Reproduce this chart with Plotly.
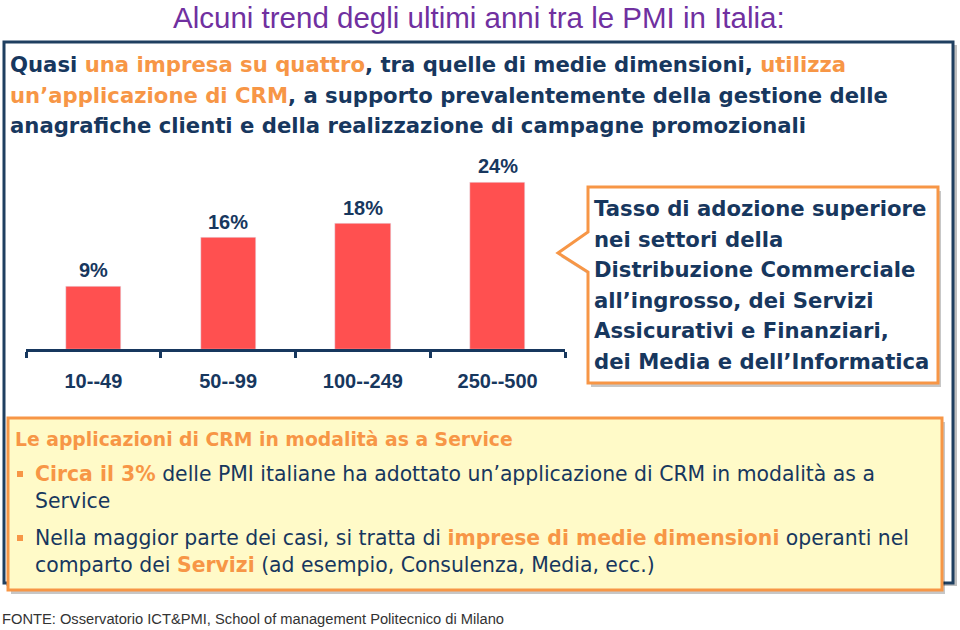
import plotly.graph_objects as go

# ---------------- data ----------------
categories = ["10--49", "50--99", "100--249", "250--500"]
adoption_pct = [9, 16, 18, 24]

title_text = "Alcuni trend degli ultimi anni tra le PMI in Italia:"
source_text = "FONTE: Osservatorio ICT&PMI, School of management Politecnico di Milano"

NAVY = "#17375E"
ORANGE = "#F79646"
RED = "#FF5050"
PURPLE = "#7030A0"
YELLOW = "#FFFAC8"
BOX = "#1F3F60"

def o(t):
    return f"<span style='color:{ORANGE}'>{t}</span>"

header_lines = [
    f"Quasi {o('una impresa su quattro')}, tra quelle di medie dimensioni, {o('utilizza')}",
    f"{o('un’applicazione di CRM')}, a supporto prevalentemente della gestione delle",
    "anagrafiche clienti e della realizzazione di campagne promozionali",
]
callout_lines = [
    "Tasso di adozione superiore",
    "nei settori della",
    "Distribuzione Commerciale",
    "all’ingrosso, dei Servizi",
    "Assicurativi e Finanziari,",
    "dei Media e dell’Informatica",
]
box_title = "Le applicazioni di CRM in modalità as a Service"
bullet_lines = [
    f"<b>{o('Circa il 3%')}</b> delle PMI italiane ha adottato un’applicazione di CRM in modalità as a",
    "Service",
    f"Nella maggior parte dei casi, si tratta di <b>{o('imprese di medie dimensioni')}</b> operanti nel",
    f"comparto dei <b>{o('Servizi')}</b> (ad esempio, Consulenza, Media, ecc.)",
]

W, H = 960, 630
def X(p):
    return p / W
def Y(p):
    return 1 - p / H

fig = go.Figure()
fig.add_trace(go.Bar(
    x=categories, y=adoption_pct, marker_color=RED, width=0.41,
    hoverinfo="skip", showlegend=False,
))

ann = []
# bar value labels
for c, v in zip(categories, adoption_pct):
    ann.append(dict(x=c, y=v, xref="x", yref="y", text=f"<b>{v}%</b>", showarrow=False,
                    yanchor="bottom", yshift=3,
                    font=dict(family="Arial, Liberation Sans", size=20, color=NAVY)))

ann.append(dict(x=X(479), y=1, xref="paper", yref="paper", text=title_text, showarrow=False,
                xanchor="center", yanchor="top", borderpad=0,
                font=dict(family="Arial, Liberation Sans", size=29.5, color=PURPLE)))

TFONT = "DejaVu Sans"
for i, t in enumerate(header_lines):
    ann.append(dict(x=X(8), y=Y(65 + i * 30.5), xref="paper", yref="paper", text=f"<b>{t}</b>",
                    showarrow=False, xanchor="left", yanchor="middle",
                    font=dict(family=TFONT, size=21.2, color=NAVY)))
for i, t in enumerate(callout_lines):
    ann.append(dict(x=X(592), y=Y(209 + i * 30.4), xref="paper", yref="paper", text=f"<b>{t}</b>",
                    showarrow=False, xanchor="left", yanchor="middle",
                    font=dict(family=TFONT, size=21.2, color=NAVY)))
ann.append(dict(x=X(13), y=Y(439), xref="paper", yref="paper", text=f"<b>{box_title}</b>",
                showarrow=False, xanchor="left", yanchor="middle",
                font=dict(family=TFONT, size=18.8, color=ORANGE)))
for t, yy in zip(bullet_lines, [474, 501, 538, 565]):
    ann.append(dict(x=X(33), y=Y(yy), xref="paper", yref="paper", text=t,
                    showarrow=False, xanchor="left", yanchor="middle",
                    font=dict(family=TFONT, size=20.4, color=NAVY)))
ann.append(dict(x=X(0), y=Y(619), xref="paper", yref="paper", text=source_text, showarrow=False,
                xanchor="left", yanchor="middle",
                font=dict(family="Arial, Liberation Sans", size=14.7, color="#333333")))

shapes = []
def rect(x0, y0, x1, y1, **kw):
    d = dict(type="rect", xref="paper", yref="paper", x0=X(x0), x1=X(x1), y0=Y(y0), y1=Y(y1), layer="below")
    d.update(kw)
    return d

# outer box with shadow
shapes.append(rect(6, 45, 957, 586, line=dict(width=0), fillcolor="rgba(0,0,0,0.25)"))
shapes.append(rect(4, 42, 953, 583, line=dict(color=BOX, width=3), fillcolor="white"))

# callout with pointer
def path(pts):
    return "M " + " L ".join(f"{X(a):.5f},{Y(b):.5f}" for a, b in pts) + " Z"

call_pts = [(588, 187), (938, 187), (938, 383), (588, 383), (588, 272), (558, 253), (588, 232)]
shadow_pts = [(a + 3, b + 4) for a, b in call_pts]
shapes.append(dict(type="path", xref="paper", yref="paper", path=path(shadow_pts), layer="below",
                   line=dict(width=0), fillcolor="rgba(0,0,0,0.22)"))
shapes.append(dict(type="path", xref="paper", yref="paper", path=path(call_pts), layer="below",
                   line=dict(color=ORANGE, width=3), fillcolor="white"))

# bottom yellow box
shapes.append(rect(11, 422, 945, 594, line=dict(width=0), fillcolor="rgba(0,0,0,0.22)"))
shapes.append(rect(8, 418, 942, 590, line=dict(color=ORANGE, width=3), fillcolor=YELLOW))
# bullets
for yy in [474, 538]:
    shapes.append(dict(type="rect", xref="paper", yref="paper", x0=X(17), x1=X(23),
                       y0=Y(yy + 3), y1=Y(yy - 3),
                       line=dict(width=0), fillcolor=ORANGE, layer="above"))

fig.update_layout(
    width=W, height=H, margin=dict(l=0, r=0, t=0, b=0),
    paper_bgcolor="white", plot_bgcolor="rgba(0,0,0,0)",
    annotations=ann, shapes=shapes, bargap=0,
    xaxis=dict(domain=[X(26), X(565)], range=[-0.5, 3.5], showline=True, linecolor=NAVY, linewidth=3,
               ticks="outside", tickson="boundaries", ticklen=6, tickwidth=3, tickcolor=NAVY,
               showgrid=False, zeroline=False, fixedrange=True, ticklabelstandoff=12,
               tickfont=dict(family="Arial, Liberation Sans", size=20, color=NAVY),
               tickprefix="<b>", ticksuffix="</b>"),
    yaxis=dict(domain=[Y(349), Y(140.5)], range=[0, 30], visible=False, showgrid=False, zeroline=False,
               fixedrange=True),
)

fig.write_html("out.html")
